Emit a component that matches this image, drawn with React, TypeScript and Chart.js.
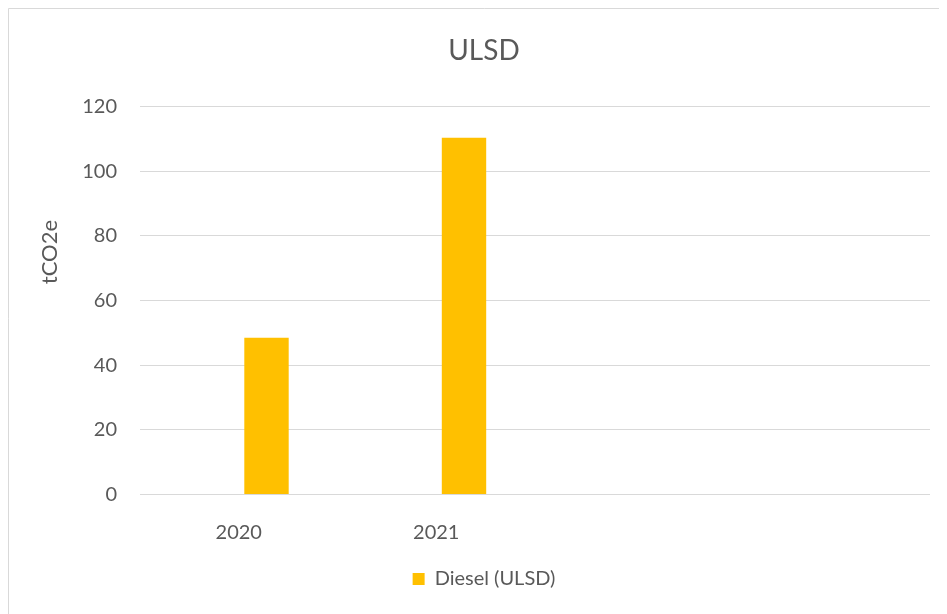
import React, { useEffect, useRef } from 'react';
import { Chart, registerables } from 'chart.js';

Chart.register(...registerables);

// ---- data ----
const categories = ['2020', '2021', '', ''];
const dieselValues: (number | null)[] = [48.5, 110.4, null, null];
const spacerValues: (number | null)[] = [null, null, null, null];
const yMin = 0;
const yMax = 120;
const yStep = 20;
const chartTitle = 'ULSD';
const yAxisTitle = 'tCO2e';
const seriesName = 'Diesel (ULSD)';

// ---- style ----
const W = 952;
const H = 620;
const FONT = 'Lato, "Open Sans", sans-serif';
const TEXT = '#595959';
const GRID = '#d9d9d9';
const BAR = '#FFC000';

const backgroundPlugin = {
  id: 'bgBorder',
  beforeDraw(chart: any) {
    const { ctx, width, height } = chart;
    ctx.save();
    ctx.fillStyle = '#ffffff';
    ctx.fillRect(0, 0, width, height);
    ctx.strokeStyle = GRID;
    ctx.lineWidth = 1;
    ctx.beginPath();
    ctx.moveTo(0.5, height);
    ctx.lineTo(0.5, 0.5);
    ctx.lineTo(width, 0.5);
    ctx.stroke();
    ctx.restore();
  },
};

const axisTitlePlugin = {
  id: 'axisTitle',
  afterDraw(chart: any) {
    const { ctx, chartArea } = chart;
    const y = chartArea.top + (chartArea.bottom - chartArea.top) * 0.375;
    ctx.save();
    ctx.translate(42, y);
    ctx.rotate(-Math.PI / 2);
    ctx.textAlign = 'center';
    ctx.textBaseline = 'middle';
    ctx.font = `22px ${FONT}`;
    ctx.fillStyle = TEXT;
    ctx.fillText(yAxisTitle, 0, 0);
    ctx.restore();
  },
};

export default function App() {
  const ref = useRef<HTMLCanvasElement | null>(null);

  useEffect(() => {
    document.body.style.overflow = 'hidden';
    const canvas = ref.current;
    if (!canvas) return;
    const chart = new Chart(canvas, {
      type: 'bar',
      data: {
        labels: categories,
        datasets: [
          {
            label: '',
            data: spacerValues,
            backgroundColor: 'rgba(0,0,0,0)',
            categoryPercentage: 0.562,
            barPercentage: 0.8,
          },
          {
            label: seriesName,
            data: dieselValues,
            backgroundColor: BAR,
            categoryPercentage: 0.562,
            barPercentage: 0.8,
          },
        ],
      },
      options: {
        responsive: false,
        animation: false,
        devicePixelRatio: 1,
        layout: { padding: { left: 30, right: 30, top: 0, bottom: 29 } },
        plugins: {
          title: {
            display: true,
            text: chartTitle,
            color: TEXT,
            font: { family: FONT, size: 28, weight: 'normal' },
            padding: { top: 26, bottom: 39 },
          },
          legend: {
            position: 'bottom',
            labels: {
              filter: (item: any) => item.text !== '',
              boxWidth: 12,
              boxHeight: 12,
              padding: 10,
              color: TEXT,
              font: { family: FONT, size: 20 },
            },
          },
          tooltip: { enabled: false },
        },
        scales: {
          x: {
            grid: { display: false },
            border: { display: false },
            ticks: {
              color: TEXT,
              font: { family: FONT, size: 20 },
              padding: 18,
              autoSkip: false,
              maxRotation: 0,
            },
            afterFit: (s: any) => {
              s.height = 64.5;
            },
          },
          y: {
            min: yMin,
            max: yMax,
            grid: { color: GRID, lineWidth: 1, drawTicks: false },
            border: { display: false },
            ticks: {
              stepSize: yStep,
              color: TEXT,
              font: { family: FONT, size: 20 },
              padding: 23,
            },
            afterFit: (s: any) => {
              s.width = 102;
            },
          },
        },
      },
      plugins: [backgroundPlugin, axisTitlePlugin],
    });
    return () => chart.destroy();
  }, []);

  return (
    <div style={{ width: 939, height: 606, overflow: 'hidden', background: '#fff' }}>
      <canvas ref={ref} width={W} height={H} style={{ width: W, height: H, display: 'block' }} />
    </div>
  );
}
